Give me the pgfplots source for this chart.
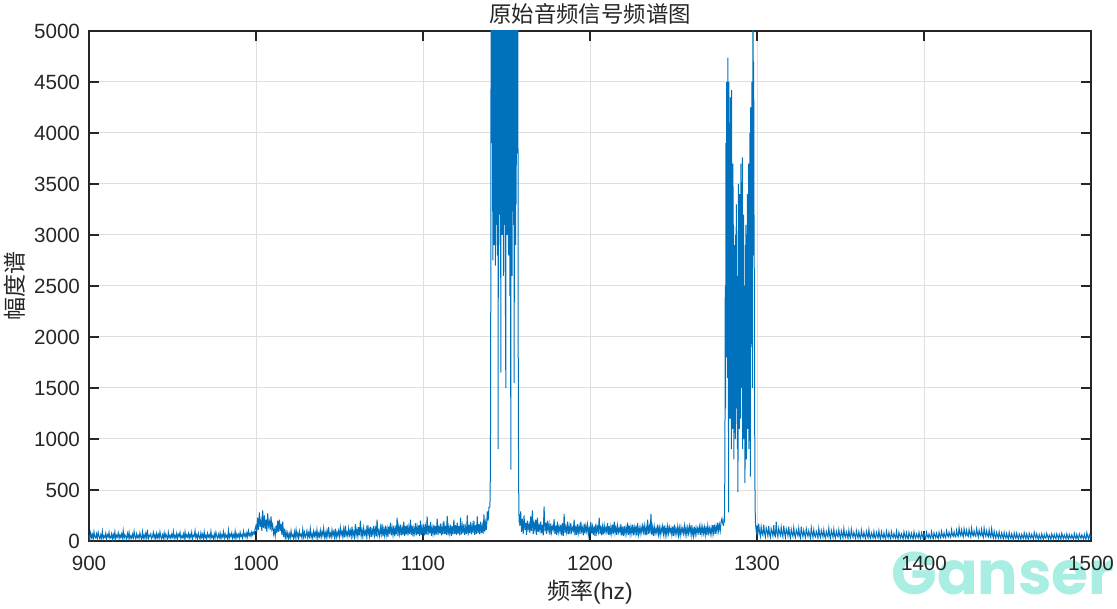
\documentclass[border=0pt]{standalone}
\usepackage{fontspec}
\setmainfont{Liberation Sans}
\newfontfamily\cjk{Noto Sans CJK SC}
\newfontfamily\wmfont{Poppins}
\usepackage{pgfplots}
\pgfplotsset{compat=1.18}
\definecolor{mblue}{RGB}{0,114,189}
\definecolor{axgray}{RGB}{38,38,38}
\definecolor{gridgray}{RGB}{223,223,223}
\definecolor{wm}{RGB}{168,238,226}
\begin{document}
\begin{tikzpicture}
\useasboundingbox (-44.5pt,-34pt) rectangle (514pt,270.5pt);
\node[anchor=base, text=wm, font=\wmfont\bfseries\fontsize{30}{30}\selectfont] at (457pt,-27pt) {Ganser};
\begin{axis}[
  at={(0,0)}, anchor=south west,
  width=501pt, height=255pt, scale only axis,
  xmin=900, xmax=1500, ymin=0, ymax=5000,
  xtick={900,1000,...,1500}, ytick={0,500,...,5000},
  scaled ticks=false,
  /pgf/number format/1000 sep={},
  /pgf/number format/assume math mode=true,
  tick align=inside, major tick length=5pt,
  xtick pos=both, ytick pos=both,
  xticklabel pos=lower, yticklabel pos=left,
  ticklabel style={font=\fontsize{10.3}{12}\selectfont, text=axgray},
  xticklabel style={yshift=-4pt},
  yticklabel style={xshift=-1pt},
  axis line style={axgray, line width=0.6pt},
  tick style={axgray, line width=0.6pt},
  grid=major, major grid style={gridgray, line width=0.5pt},
  title={\cjk 原始音频信号频谱图},
  title style={at={(axis description cs:0.5,1.0098)}, anchor=center, font=\fontsize{11.2}{13}\selectfont, text=axgray},
  xlabel={{\cjk 频率}(hz)},
  xlabel style={at={(axis description cs:0.5,-0.1)}, anchor=center, font=\fontsize{11.5}{13}\selectfont, text=axgray},
  ylabel={\cjk 幅度谱},
  ylabel style={at={(axis description cs:-0.0739,0.5)}, anchor=center, font=\fontsize{11.5}{13}\selectfont, text=axgray},
]
\addplot[mblue, line width=0.5pt] table[x expr=900+0.5*\coordindex, y index=0, header=false] {
55
20
80
35
65
15
90
40
30
70
25
85
45
20
60
30
95
25
50
35
75
20
60
40
85
25
35
70
15
65
30
90
20
55
40
80
25
60
35
70
30
100
25
60
45
20
75
35
85
20
50
30
65
25
95
40
20
70
35
55
25
80
40
15
90
30
60
25
75
35
110
20
55
45
70
25
40
85
30
60
20
75
35
65
25
90
40
20
60
30
80
25
70
45
15
85
35
55
25
65
40
95
25
55
30
75
20
65
45
85
25
50
35
70
20
90
30
60
40
75
25
65
35
85
20
55
45
100
30
60
25
75
40
20
80
35
65
25
90
30
55
20
75
40
60
25
95
35
50
20
70
30
85
45
25
65
35
80
20
60
40
90
25
70
35
55
20
105
30
65
45
80
25
60
35
95
20
70
40
65
30
85
45
60
25
95
50
70
35
80
40
100
55
75
45
90
60
85
70
120
150
90
230
110
280
140
200
100
300
130
250
120
210
90
270
150
190
110
240
120
160
70
110
50
150
80
200
90
210
100
170
60
190
40
120
30
90
35
80
25
70
30
100
45
60
25
90
35
110
40
75
20
95
50
65
30
115
40
85
35
60
100
30
80
45
120
35
70
25
95
50
85
40
110
30
75
45
105
35
90
55
125
40
80
30
100
50
135
45
75
35
110
55
90
40
120
30
85
50
100
45
130
60
95
40
115
35
150
55
85
45
125
60
100
40
140
50
90
35
165
60
110
45
135
55
200
50
105
40
130
65
95
45
155
60
120
50
140
40
110
65
145
55
120
45
210
60
100
50
135
70
165
45
115
55
150
60
125
40
140
70
180
55
130
60
150
45
120
65
230
50
140
70
160
55
125
60
190
50
145
65
160
55
135
70
210
60
150
45
125
75
175
55
140
65
155
50
200
60
135
70
165
55
140
65
240
60
150
75
185
50
130
70
160
55
145
65
220
60
150
75
170
55
140
65
195
70
150
60
245
55
135
75
160
50
145
65
210
70
155
60
180
70
145
55
230
65
150
75
170
60
135
70
250
55
160
75
185
65
150
80
200
60
155
70
240
75
165
65
190
80
150
70
260
90
180
110
290
200
330
330
};
\addplot[mblue, line width=0.5pt] table[x expr=1140+0.2*\coordindex, y index=0, header=false] {
330
420
900
2500
5800
4200
6500
3900
5500
2750
6200
3300
5900
2900
6800
3600
5400
2700
6100
3100
7000
3400
5700
2800
6300
900
6000
3200
5500
3500
6600
2900
5800
1650
6200
3700
5900
3000
6700
3300
5600
2600
6100
3800
5700
3100
6400
2200
1500
5800
3600
6900
3000
5600
3900
6300
2800
5800
3400
6000
2400
5500
3200
700
6200
3500
5900
2600
6500
4300
5700
3100
6000
1550
5600
3700
6300
2900
5800
3300
5400
3800
6100
4000
5200
2000
800
300
180
260
150
};
\addplot[mblue, line width=0.5pt] table[x expr=1158+0.5*\coordindex, y index=0, header=false] {
150
290
90
220
70
250
110
180
60
200
120
160
80
240
100
300
70
170
110
210
60
230
90
150
100
190
75
160
55
340
95
180
70
200
110
165
60
170
85
140
110
215
70
150
60
190
85
140
90
160
55
175
50
265
80
135
85
190
65
145
70
175
90
130
100
210
55
150
60
165
80
140
70
190
95
130
55
170
75
150
95
160
60
125
85
185
75
140
60
145
50
170
80
135
90
230
70
150
55
140
65
155
85
130
90
175
60
145
55
140
75
160
70
190
80
135
60
150
85
125
85
165
55
140
50
145
70
130
75
180
60
150
65
140
80
160
55
135
75
150
55
175
65
125
70
135
85
150
90
150
55
130
60
210
70
140
75
265
60
135
50
140
75
120
80
160
65
130
55
130
85
145
70
150
55
125
60
145
75
135
85
125
60
140
50
160
70
120
70
140
55
130
55
135
80
120
75
150
65
130
60
130
75
145
80
155
55
120
50
140
65
130
70
125
85
140
60
145
70
135
75
135
60
145
55
150
80
125
70
130
65
155
80
160
70
145
90
180
100
160
100
190
220
170
150
};
\addplot[mblue, line width=0.5pt] table[x expr=1280+0.2*\coordindex, y index=0, header=false] {
150
220
180
300
900
2500
1300
3900
1800
4500
2200
4300
1600
4740
2600
280
4500
1900
3800
1200
4350
2100
3600
900
4420
1500
3300
1100
3700
2000
3100
800
2900
1400
2700
1000
3000
1700
3300
1300
2600
900
2400
480
3500
1600
3100
1100
3400
1900
2800
1200
3700
1500
3100
2200
3760
900
2700
1400
3200
1000
2500
1700
570
2900
1300
3100
800
2600
1500
3400
1100
2800
1800
3700
900
3300
1600
4000
630
4250
1900
3600
2400
4500
1500
4100
5200
2800
4700
3200
2500
1200
500
200
150
120
90
110
150
};
\addplot[mblue, line width=0.5pt] table[x expr=1300+0.5*\coordindex, y index=0, header=false] {
150
60
170
90
45
140
75
55
160
80
40
130
95
50
145
70
35
120
85
50
155
60
45
190
75
40
125
85
55
135
70
40
150
80
35
120
90
50
140
65
30
115
70
45
130
60
35
110
80
50
125
55
30
140
75
40
105
65
35
120
75
45
100
60
30
130
70
35
110
55
40
95
65
30
125
60
35
105
70
40
110
50
30
95
65
40
125
55
25
105
70
35
115
50
30
95
60
40
110
55
25
100
65
30
120
55
35
90
60
25
105
50
30
115
65
35
85
55
25
100
60
30
90
45
25
105
55
35
85
50
20
95
60
30
110
45
25
80
55
30
95
40
25
85
55
30
100
45
20
90
50
30
80
40
20
95
55
30
85
45
20
90
50
30
75
45
25
95
40
20
85
55
30
70
45
20
90
50
25
80
40
20
85
50
30
75
40
20
90
45
25
70
50
30
85
40
20
80
55
25
75
45
20
85
50
30
70
40
25
90
45
20
80
55
30
75
40
25
85
50
30
95
55
35
80
45
30
100
60
40
85
50
35
110
60
45
90
50
40
105
60
45
130
70
50
110
65
40
120
75
50
105
60
45
115
70
40
125
65
50
100
60
45
120
75
40
105
65
50
115
60
35
125
70
45
100
60
40
110
55
35
120
60
30
95
50
25
85
55
30
90
45
25
80
50
20
85
45
25
75
40
20
85
45
25
70
40
15
80
45
25
75
40
20
70
45
15
65
40
25
80
45
20
70
40
15
75
45
25
65
40
20
85
50
25
70
40
15
65
35
20
70
40
15
65
35
25
75
45
20
60
40
15
70
45
25
65
35
20
70
45
20
65
40
15
75
45
25
60
35
20
70
40
15
65
40
25
60
35
15
75
40
20
65
35
15
70
45
25
60
40
20
65
35
15
80
45
20
60
35
60
};
\end{axis}
\end{tikzpicture}
\end{document}
